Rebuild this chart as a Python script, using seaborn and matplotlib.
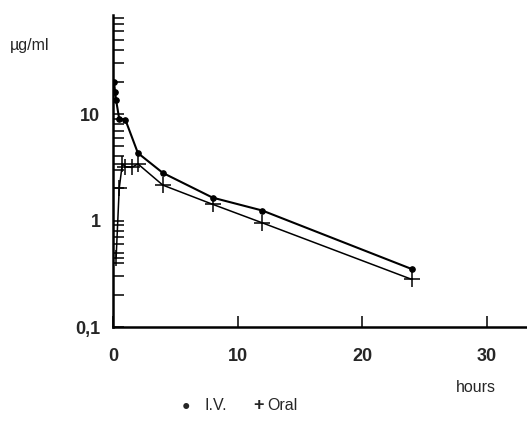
import numpy as np
import pandas as pd
import matplotlib
matplotlib.use('Agg')
import matplotlib.pyplot as plt
from matplotlib.ticker import LogLocator, FixedLocator, FuncFormatter, NullFormatter
import seaborn as sns

sns.set_style('white')
plt.rcParams['font.family'] = ['Liberation Sans', 'DejaVu Sans']

# plasma concentrations (ug/ml)
iv_hours = [0.083, 0.17, 0.25, 0.5, 1, 2, 4, 8, 12, 24]
iv_conc = [20.0, 16.0, 13.5, 9.0, 8.8, 4.3, 2.8, 1.64, 1.24, 0.35]
oral_hours = [0.25, 0.5, 0.75, 1, 1.5, 2, 4, 8, 12, 24]
oral_conc = [0.44, 2.0, 3.4, 3.2, 3.15, 3.4, 2.15, 1.42, 0.95, 0.28]

iv = pd.DataFrame({'hours': iv_hours, 'conc': iv_conc, 'route': 'I.V.'})
oral = pd.DataFrame({'hours': oral_hours, 'conc': oral_conc, 'route': 'Oral'})

fig = plt.figure(figsize=(5.27, 4.34), dpi=100)
ax = fig.add_axes([0.2144, 0.2465, 0.7856, 0.7189])

sns.lineplot(data=iv, x='hours', y='conc', ax=ax, color='black', lw=1.5,
             marker='o', markersize=4, markeredgecolor='black', markerfacecolor='black')
sns.lineplot(data=oral, x='hours', y='conc', ax=ax, color='black', lw=1.1,
             marker='+', markersize=11, markeredgewidth=1.1, markeredgecolor='black')

ax.set_yscale('log')
ax.set_ylim(0.1, 85)
ax.set_xlim(0, 33.25)

sns.despine(ax=ax)
for s in ['left', 'bottom']:
    ax.spines[s].set_linewidth(1.8)
    ax.spines[s].set_color('black')

ax.yaxis.set_major_locator(FixedLocator([0.1, 1, 10]))
ax.yaxis.set_minor_locator(LogLocator(base=10, subs=np.arange(2, 10)))
ax.yaxis.set_major_formatter(FuncFormatter(lambda v, p: '0,1' if v < 0.5 else '%d' % v))
ax.yaxis.set_minor_formatter(NullFormatter())
ax.set_xticks([0, 10, 20, 30])

ax.tick_params(axis='y', which='both', direction='in', length=8, width=1.3,
               labelsize=13, pad=9, left=True)
ax.tick_params(axis='x', which='major', direction='in', length=8, width=1.3,
               labelsize=13, pad=15, bottom=True)
for lab in ax.get_xticklabels() + ax.get_yticklabels():
    lab.set_fontweight('bold')

ax.set_xlabel('')
ax.set_ylabel('')
ax.grid(False)
if ax.get_legend():
    ax.get_legend().remove()

fig.text(0.019, 0.896, 'µg/ml', fontsize=11.5, va='center')
fig.text(0.903, 0.108, 'hours', fontsize=11.5, ha='center', va='center')

# legend along the bottom
fig.text(0.353, 0.065, '●', fontsize=10, ha='center', va='center')
fig.text(0.388, 0.065, 'I.V.', fontsize=11.5, va='center')
fig.text(0.49, 0.065, '+', fontsize=13, fontweight='bold', ha='center', va='center')
fig.text(0.508, 0.065, 'Oral', fontsize=11.5, va='center')

fig.savefig('out.png', dpi=100)
